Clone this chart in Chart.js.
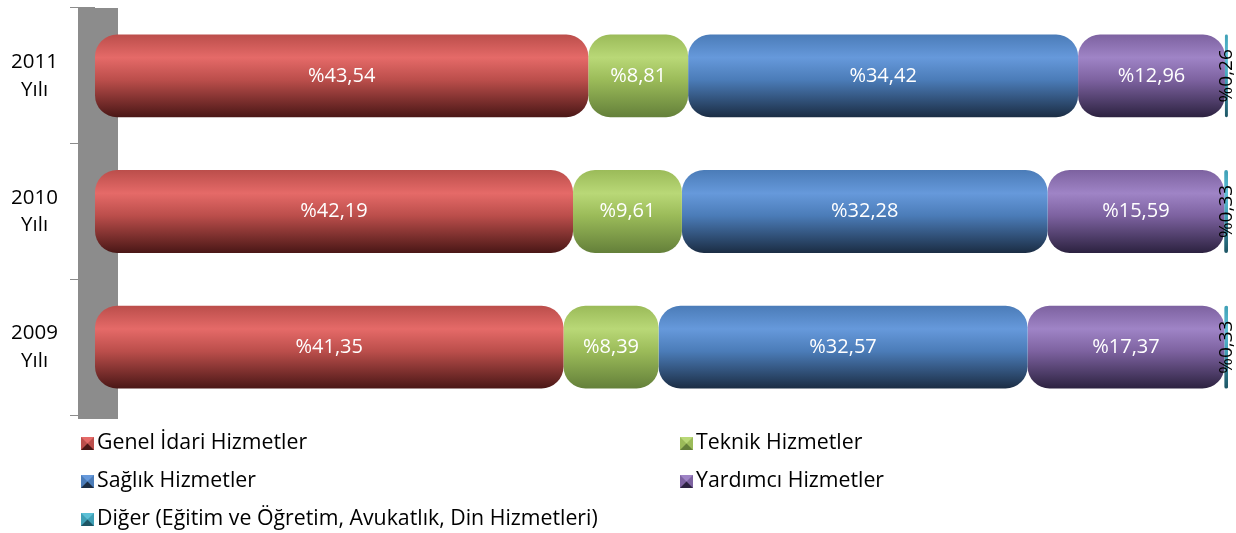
<!DOCTYPE html>
<html>
<head>
<meta charset="utf-8">
<script src="https://cdn.jsdelivr.net/npm/chart.js@4/dist/chart.umd.min.js"></script>
<style>
  html, body { margin: 0; padding: 0; background: #fff; }
  #wrap { width: 1236px; height: 533px; position: relative; }
</style>
</head>
<body>
<div id="wrap"><canvas id="myChart"></canvas></div>
<script>
var years = [["2011", "Yılı"], ["2010", "Yılı"], ["2009", "Yılı"]];

var seriesNames = [
  "Genel İdari Hizmetler",
  "Teknik Hizmetler",
  "Sağlık Hizmetler",
  "Yardımcı Hizmetler",
  "Diğer (Eğitim ve Öğretim, Avukatlık, Din Hizmetleri)"
];

var genel = [43.54, 42.19, 41.35];
var teknik = [8.81, 9.61, 8.39];
var saglik = [34.42, 32.28, 32.57];
var yardimci = [12.96, 15.59, 17.37];
var diger = [0.26, 0.33, 0.33];

// base, highlight, dark
var COLORS = [
  ['#bb4e4b', '#e56a68', '#4a1716'],
  ['#9bbb59', '#b9d877', '#64803a'],
  ['#4b7cb8', '#6699db', '#1b2d44'],
  ['#7d62a0', '#9f84c6', '#2c2240'],
  ['#3f9fb5', '#5cc0d6', '#1d5564']
];

var FONT = "'Open Sans', sans-serif";

function barFill(i) {
  return function(context) {
    var chart = context.chart;
    var c = COLORS[i];
    if (!chart.chartArea || !chart.scales.y) return c[0];
    var y = chart.scales.y;
    var mid = y.getPixelForValue(context.dataIndex);
    var band = (chart.chartArea.bottom - chart.chartArea.top) / years.length;
    var h = band * 0.61;
    var g = chart.ctx.createLinearGradient(0, mid - h / 2, 0, mid + h / 2);
    g.addColorStop(0, c[0]);
    g.addColorStop(0.28, c[1]);
    g.addColorStop(0.55, c[0]);
    g.addColorStop(1, c[2]);
    return g;
  };
}

var data = [genel, teknik, saglik, yardimci, diger];
var datasets = data.map(function(d, i) {
  return {
    label: seriesNames[i],
    data: d,
    backgroundColor: barFill(i),
    borderSkipped: false,
    borderRadius: i === 4 ? 2 : {topLeft: 22, topRight: 22, bottomLeft: 22, bottomRight: 22},
    borderWidth: 0,
    categoryPercentage: 1,
    barPercentage: 0.61
  };
});

// grey back wall
var wallPlugin = {
  id: 'wall',
  beforeDatasetsDraw: function(chart) {
    var a = chart.chartArea, ctx = chart.ctx;
    ctx.save();
    ctx.fillStyle = '#8c8c8c';
    ctx.fillRect(a.left - 17, a.top, 40, a.bottom - a.top + 4);
    ctx.restore();
  }
};

// value labels
var labelPlugin = {
  id: 'vals',
  afterDatasetsDraw: function(chart) {
    var ctx = chart.ctx;
    ctx.save();
    ctx.textAlign = 'center';
    ctx.textBaseline = 'middle';
    chart.data.datasets.forEach(function(ds, i) {
      var meta = chart.getDatasetMeta(i);
      meta.data.forEach(function(bar, j) {
        var txt = '%' + ds.data[j].toFixed(2).replace('.', ',');
        var p = bar.getCenterPoint();
        if (i === 4) {
          ctx.save();
          ctx.translate(p.x, p.y);
          ctx.rotate(-Math.PI / 2);
          ctx.fillStyle = '#000';
          ctx.font = '19px ' + FONT;
          ctx.fillText(txt, 0, 0);
          ctx.restore();
        } else {
          ctx.fillStyle = '#fff';
          ctx.font = '20px ' + FONT;
          ctx.fillText(txt, p.x, p.y);
        }
      });
    });
    ctx.restore();
  }
};

// two column legend under the plot
var legendPlugin = {
  id: 'legend2',
  afterDraw: function(chart) {
    var ctx = chart.ctx;
    var cols = [81, 680];
    var rows = [443, 481, 519];
    ctx.save();
    ctx.font = '21.3px ' + FONT;
    ctx.textBaseline = 'middle';
    ctx.textAlign = 'left';
    chart.data.datasets.forEach(function(ds, i) {
      var x = cols[i % 2], y = rows[Math.floor(i / 2)];
      var c = COLORS[i], s = 13, t = y - 6;
      ctx.fillStyle = c[0];
      ctx.fillRect(x, t, s, s);
      ctx.fillStyle = c[1];
      ctx.beginPath(); ctx.moveTo(x, t); ctx.lineTo(x + s, t); ctx.lineTo(x + s / 2, t + s / 2); ctx.fill();
      ctx.fillStyle = c[2];
      ctx.beginPath(); ctx.moveTo(x, t + s); ctx.lineTo(x + s, t + s); ctx.lineTo(x + s / 2, t + s / 2); ctx.fill();
      ctx.fillStyle = '#000';
      ctx.fillText(ds.label, x + 16, y);
    });
    ctx.restore();
  }
};

new Chart("myChart", {
  type: "bar",
  data: {
    labels: years,
    datasets: datasets
  },
  options: {
    indexAxis: 'y',
    responsive: true,
    maintainAspectRatio: false,
    animation: false,
    layout: { padding: { top: 8, right: 8, bottom: 118, left: 0 } },
    plugins: {
      legend: { display: false },
      tooltip: { enabled: false }
    },
    scales: {
      x: {
        stacked: true,
        display: false,
        min: 0,
        max: 100
      },
      y: {
        stacked: true,
        afterFit: function(scale) {
          scale.width = 95;
          scale.paddingTop = 0;
          scale.paddingBottom = 0;
        },
        border: { display: false },
        grid: {
          offset: true,
          drawOnChartArea: false,
          tickLength: 25,
          color: '#8c8c8c',
          lineWidth: 1
        },
        ticks: {
          crossAlign: 'center',
          padding: 12,
          color: '#000',
          font: { family: FONT, size: 20.5, lineHeight: 1.35 }
        }
      }
    }
  },
  plugins: [wallPlugin, labelPlugin, legendPlugin]
});
</script>
</body>
</html>
